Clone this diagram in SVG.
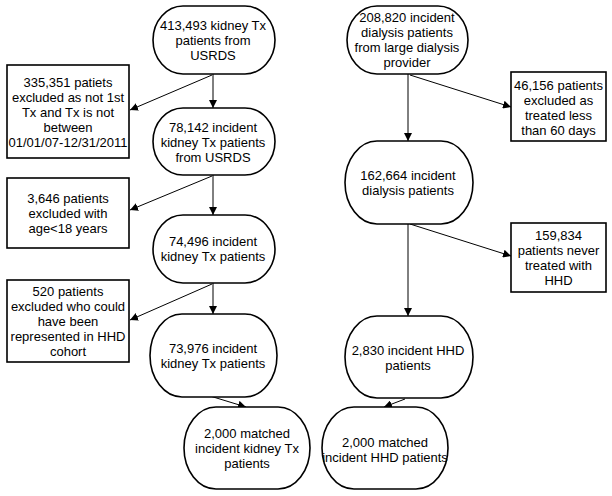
<svg xmlns="http://www.w3.org/2000/svg" width="612" height="496" viewBox="0 0 612 496">
<style>
.n{fill:#fff;stroke:#000;stroke-width:1.6}
.b{fill:#fff;stroke:#000;stroke-width:1.6}
.c{stroke:#000;stroke-width:1;fill:none;marker-end:url(#ah)}
text{font-family:"Liberation Sans",Arial,sans-serif;font-size:13px;fill:#000;text-anchor:middle;dominant-baseline:central}
</style>
<defs>
<marker id="ah" viewBox="0 0 10 10" refX="10" refY="5" markerWidth="8" markerHeight="8" markerUnits="userSpaceOnUse" orient="auto">
<path d="M0,0 L10,5 L0,10 z" fill="#000"/>
</marker>
</defs>
<rect width="612" height="496" fill="#fff"/>
<g id="connectors">
<line class="c" x1="213" y1="74" x2="213" y2="108"/>
<line class="c" x1="212" y1="75" x2="130" y2="110"/>
<line class="c" x1="213" y1="175" x2="213" y2="215"/>
<line class="c" x1="212" y1="176" x2="130" y2="210"/>
<line class="c" x1="213" y1="283" x2="213" y2="314"/>
<line class="c" x1="212" y1="284" x2="130" y2="320"/>
<line class="c" x1="210" y1="396" x2="246" y2="407"/>
<line class="c" x1="408" y1="74" x2="408" y2="141"/>
<line class="c" x1="410" y1="75" x2="511" y2="107"/>
<line class="c" x1="410" y1="224" x2="511" y2="256"/>
<line class="c" x1="408" y1="224" x2="408" y2="316"/>
<line class="c" x1="405" y1="399" x2="384" y2="407"/>
</g>
<g id="n1"><rect class="n" x="153" y="6" width="122" height="68" rx="30" ry="34"/>
<text x="213" y="25">413,493 kidney Tx</text><text x="213" y="40">patients from</text><text x="213" y="55">USRDS</text></g>
<g id="n2"><rect class="n" x="153" y="108" width="122" height="67" rx="30" ry="33.5"/>
<text x="213" y="127">78,142 incident</text><text x="213" y="142">kidney Tx patients</text><text x="213" y="157">from USRDS</text></g>
<g id="n3"><rect class="n" x="153" y="215" width="122" height="68" rx="30" ry="34"/>
<text x="213" y="241">74,496 incident</text><text x="213" y="256">kidney Tx patients</text></g>
<g id="n4"><rect class="n" x="150" y="314" width="127" height="83" rx="32" ry="41.5"/>
<text x="213" y="348">73,976 incident</text><text x="213" y="363">kidney Tx patients</text></g>
<g id="n5"><rect class="n" x="184" y="407" width="126" height="82" rx="32" ry="41"/>
<text x="247" y="433">2,000 matched</text><text x="247" y="448">incident kidney Tx</text><text x="247" y="463">patients</text></g>
<g id="b1"><rect class="b" x="7" y="65" width="122" height="93"/>
<text x="68" y="82">335,351 patiets</text><text x="68" y="97">excluded as not 1st</text><text x="68" y="112">Tx and Tx is not</text><text x="68" y="127">between</text><text x="68" y="142">01/01/07-12/31/2011</text></g>
<g id="b2"><rect class="b" x="7" y="178" width="122" height="70"/>
<text x="68" y="198">3,646 patients</text><text x="68" y="213">excluded with</text><text x="68" y="228">age&lt;18 years</text></g>
<g id="b3"><rect class="b" x="7" y="280" width="122" height="82"/>
<text x="68" y="291">520 patients</text><text x="68" y="306">excluded who could</text><text x="68" y="321">have been</text><text x="68" y="336">represented in HHD</text><text x="68" y="351">cohort</text></g>
<g id="r1"><rect class="n" x="347" y="6" width="121" height="68" rx="30" ry="34"/>
<text x="407" y="17.5">208,820 incident</text><text x="407" y="32.5">dialysis patients</text><text x="407" y="47.5">from large dialysis</text><text x="407" y="62.5">provider</text></g>
<g id="r2"><rect class="n" x="345" y="141" width="128" height="83" rx="32" ry="41.5"/>
<text x="408" y="175">162,664 incident</text><text x="408" y="190">dialysis patients</text></g>
<g id="r3"><rect class="n" x="345" y="316" width="128" height="82" rx="32" ry="41"/>
<text x="408" y="350">2,830 incident HHD</text><text x="408" y="365">patients</text></g>
<g id="r4"><rect class="n" x="322" y="407" width="126" height="82" rx="32" ry="41"/>
<text x="385" y="442">2,000 matched</text><text x="385" y="457">incident HHD patients</text></g>
<g id="br1"><rect class="b" x="511" y="72" width="95" height="69"/>
<text x="558.5" y="85">46,156 patients</text><text x="558.5" y="100">excluded as</text><text x="558.5" y="115">treated less</text><text x="558.5" y="130">than 60 days</text></g>
<g id="br2"><rect class="b" x="511" y="223" width="95" height="69"/>
<text x="558.5" y="235">159,834</text><text x="558.5" y="250">patients never</text><text x="558.5" y="265">treated with</text><text x="558.5" y="280">HHD</text></g>
</svg>
